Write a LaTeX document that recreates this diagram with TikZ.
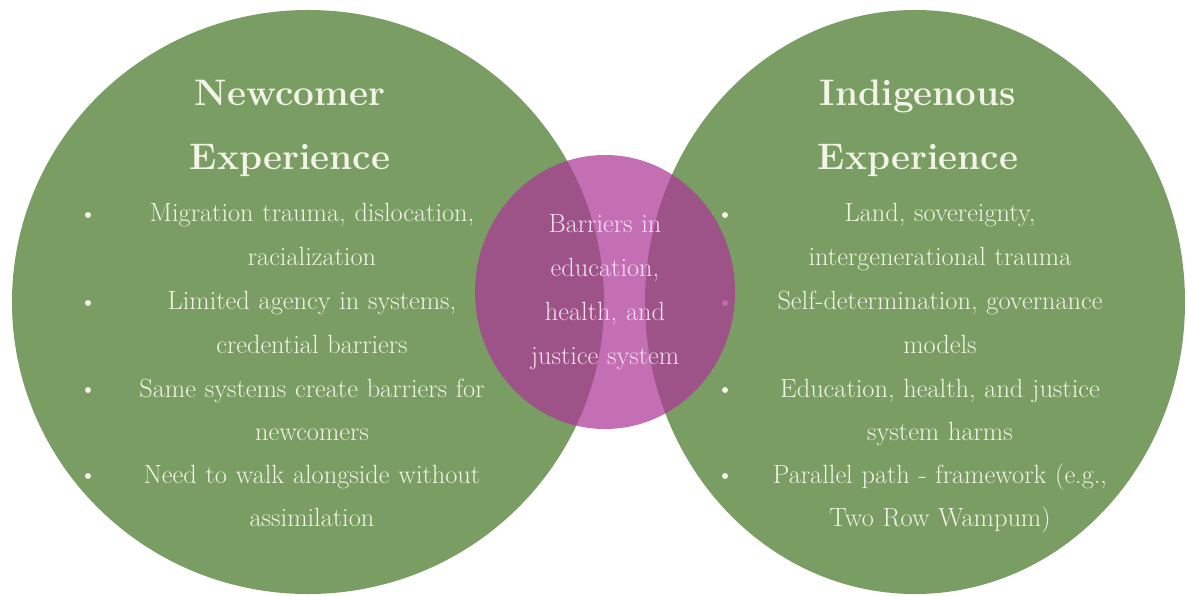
\documentclass[tikz,border=0pt]{standalone}
\usepackage{xcolor}
\usepackage{tikz}
\usetikzlibrary{positioning,shapes.geometric}
\definecolor{VennGreen}{RGB}{121,157,99}
\definecolor{VennPink}{RGB}{173,55,151}
\definecolor{VennText}{RGB}{242,244,230}
\definecolor{PinkText}{RGB}{244,224,238}
\tikzset{
    bubble/.style={ellipse, fill=VennGreen, draw=none, inner sep=0pt},
    heading/.style={text=VennText, font=\bfseries\fontsize{21}{36.4}\selectfont, align=center, text width=8cm, anchor=base},
    point/.style={text=VennText, font=\fontsize{15}{24.9}\selectfont, align=center, text width=9cm, anchor=base},
    dot/.style={circle, fill=VennText, inner sep=0pt, minimum size=1.2mm}
}

\begin{document}
\begin{tikzpicture}[x=0.2mm, y=-0.2mm,
                % Vòng giữa: hồng, trong suốt một phần
                overlap/.style={
                    ellipse,
                    fill=VennPink,
                    fill opacity=0.72,
                    inner sep=0pt
                }
            ]
                \useasboundingbox (0,0) rectangle (1187,596);
                % Hai vòng xanh
                \node[bubble, minimum width=11.84cm, minimum height=11.68cm] (newcomer) at (308,302) {};
                \node[bubble, minimum width=10.8cm, minimum height=11.68cm] (indigenous) at (915,302) {};
                % Tiêu đề
                \node[heading] (newtitle) at (290,106) {Newcomer\\Experience};
                \node[heading] (indtitle) at (918,106) {Indigenous\\Experience};
                % Các ý bên trái
                \node[point] (n1) at (312,222) {Migration trauma, dislocation,\\racialization};
                \node[point] (n2) at (312,310) {Limited agency in systems,\\credential barriers};
                \node[point] (n3) at (312,397) {Same systems create barriers for\\newcomers};
                \node[point] (n4) at (312,483) {Need to walk alongside without\\assimilation};
                % Các ý bên phải
                \node[point] (i1) at (940,222) {Land, sovereignty,\\intergenerational trauma};
                \node[point] (i2) at (940,310) {Self-determination, governance\\models};
                \node[point] (i3) at (940,397) {Education, health, and justice\\system harms};
                \node[point] (i4) at (940,483) {Parallel path - framework (e.g.,\\Two Row Wampum)};
                % Dấu chấm đầu dòng
                \foreach \y [count=\k] in {222,310,397,483} {
                    \node[dot] (ndot\k) at (88,\y-7) {};
                    \node[dot] (idot\k) at (725,\y-7) {};
                }
                % Vùng giao nhau
                \node[overlap, minimum width=5.2cm, minimum height=5.48cm] (barriers) at (605,292) {};
                \node[point, text=PinkText] (barrierstext) at (605,233) {Barriers in\\education,\\health, and\\justice system};
            \end{tikzpicture}
\end{document}
